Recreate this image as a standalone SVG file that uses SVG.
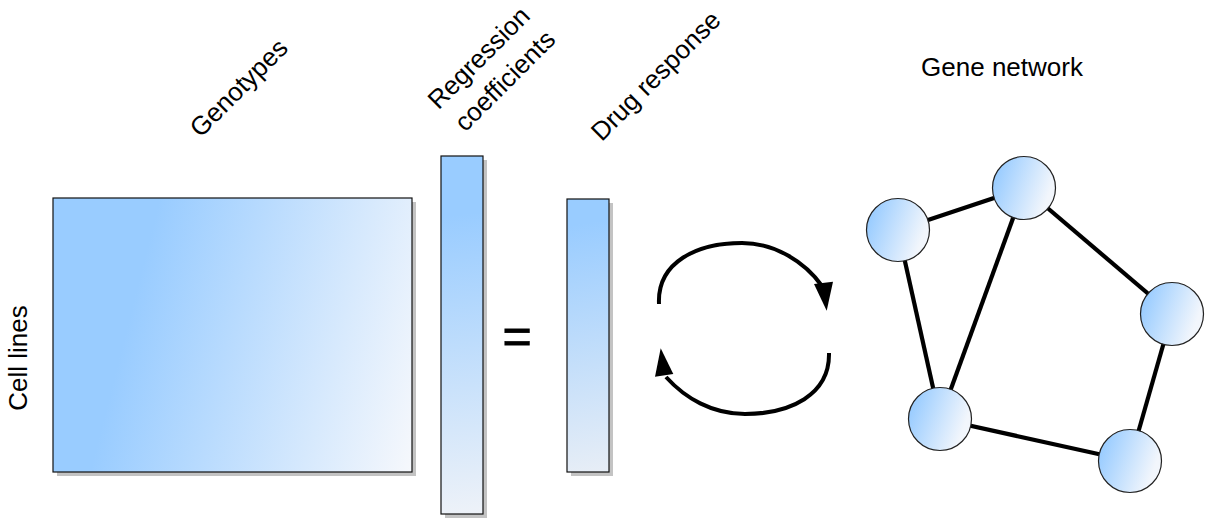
<svg xmlns="http://www.w3.org/2000/svg" width="1207" height="520" viewBox="0 0 1207 520">
  <defs>
    <style>
      .label { font-family: "Liberation Sans", Arial, sans-serif; font-size: 26px; fill: #000; }
      .shadow { fill: #c3c3c3; }
      .box { stroke: #111; stroke-width: 1.2; }
      .edge { stroke: #000; stroke-width: 4.2; stroke-linecap: butt; fill: none; }
      .node { fill: url(#nodeFill); stroke: #222; stroke-width: 1.2; }
      .cycle { stroke: #000; stroke-width: 4; fill: none; }
      .head { fill: #000; }
    </style>
    <linearGradient id="matrixFill" gradientUnits="userSpaceOnUse" x1="160" y1="198" x2="462" y2="275">
      <stop offset="0" stop-color="#99ccff"/>
      <stop offset="1" stop-color="#f6f8fc"/>
    </linearGradient>
    <linearGradient id="coefFill" gradientUnits="userSpaceOnUse" x1="455" y1="215" x2="490" y2="514">
      <stop offset="0" stop-color="#99ccff"/>
      <stop offset="1" stop-color="#eef2f8"/>
    </linearGradient>
    <linearGradient id="responseFill" gradientUnits="userSpaceOnUse" x1="575" y1="225" x2="620" y2="472">
      <stop offset="0" stop-color="#99ccff"/>
      <stop offset="1" stop-color="#e8eef6"/>
    </linearGradient>
    <linearGradient id="nodeFill" x1="0.15" y1="0" x2="1" y2="0.3">
      <stop offset="0" stop-color="#99ccff"/>
      <stop offset="1" stop-color="#f2f6fc"/>
    </linearGradient>
  </defs>

  <!-- column headings -->
  <g id="heading-genotypes">
    <text class="label" text-anchor="middle" transform="translate(245,94) rotate(-45)">Genotypes</text>
  </g>
  <g id="heading-coefficients">
    <text class="label" text-anchor="middle" transform="translate(485,64) rotate(-45)">Regression</text>
    <text class="label" text-anchor="middle" transform="translate(511,87) rotate(-45)">coefficients</text>
  </g>
  <g id="heading-response">
    <text class="label" text-anchor="middle" transform="translate(662,82) rotate(-45)">Drug response</text>
  </g>
  <g id="heading-network">
    <text class="label" x="1002" y="76" text-anchor="middle">Gene network</text>
  </g>
  <g id="heading-cells">
    <text class="label" text-anchor="middle" transform="translate(27,358) rotate(-90)">Cell lines</text>
  </g>

  <!-- genotype matrix -->
  <g id="genotypes">
    <rect class="shadow" x="57" y="202" width="359" height="274"/>
    <rect class="box" x="53" y="198" width="359" height="274" fill="url(#matrixFill)"/>
  </g>

  <!-- coefficient vector -->
  <g id="coefficients">
    <rect class="shadow" x="445" y="160" width="42" height="358"/>
    <rect class="box" x="441" y="156" width="42" height="358" fill="url(#coefFill)"/>
  </g>

  <g id="equals">
    <text x="517" y="353" text-anchor="middle" style="font-family: 'Liberation Sans', Arial, sans-serif; font-size: 50px; stroke: #000; stroke-width: 0.9;">=</text>
  </g>

  <!-- response vector -->
  <g id="response">
    <rect class="shadow" x="571" y="203" width="42" height="273"/>
    <rect class="box" x="567" y="199" width="42" height="273" fill="url(#responseFill)"/>
  </g>

  <!-- iteration cycle -->
  <g id="cycle">
    <path class="cycle" d="M659,304 C657,262 697,243 742,243 C775,243 805,262 822,286"/>
    <polygon class="head" points="814,284 833,281.7 826.7,310.7"/>
    <path class="cycle" d="M829,353 C830,395 790,414 745,414 C712,414 685,398 666,377"/>
    <polygon class="head" points="655,376.7 673.3,374 660.7,348.3"/>
  </g>

  <!-- network edges -->
  <g id="connectors">
    <line class="edge" x1="898" y1="230" x2="1024" y2="188"/>
    <line class="edge" x1="1024" y1="188" x2="1172" y2="314"/>
    <line class="edge" x1="1172" y1="314" x2="1130" y2="461"/>
    <line class="edge" x1="940" y1="419" x2="1130" y2="461"/>
    <line class="edge" x1="898" y1="230" x2="940" y2="419"/>
    <line class="edge" x1="1024" y1="188" x2="940" y2="419"/>
  </g>

  <!-- network nodes -->
  <g id="gene-a"><circle class="node" cx="898" cy="230" r="31.5"/></g>
  <g id="gene-b"><circle class="node" cx="1024" cy="188" r="31.5"/></g>
  <g id="gene-c"><circle class="node" cx="1172" cy="314" r="31.5"/></g>
  <g id="gene-d"><circle class="node" cx="940" cy="419" r="31.5"/></g>
  <g id="gene-e"><circle class="node" cx="1130" cy="461" r="31.5"/></g>
</svg>
